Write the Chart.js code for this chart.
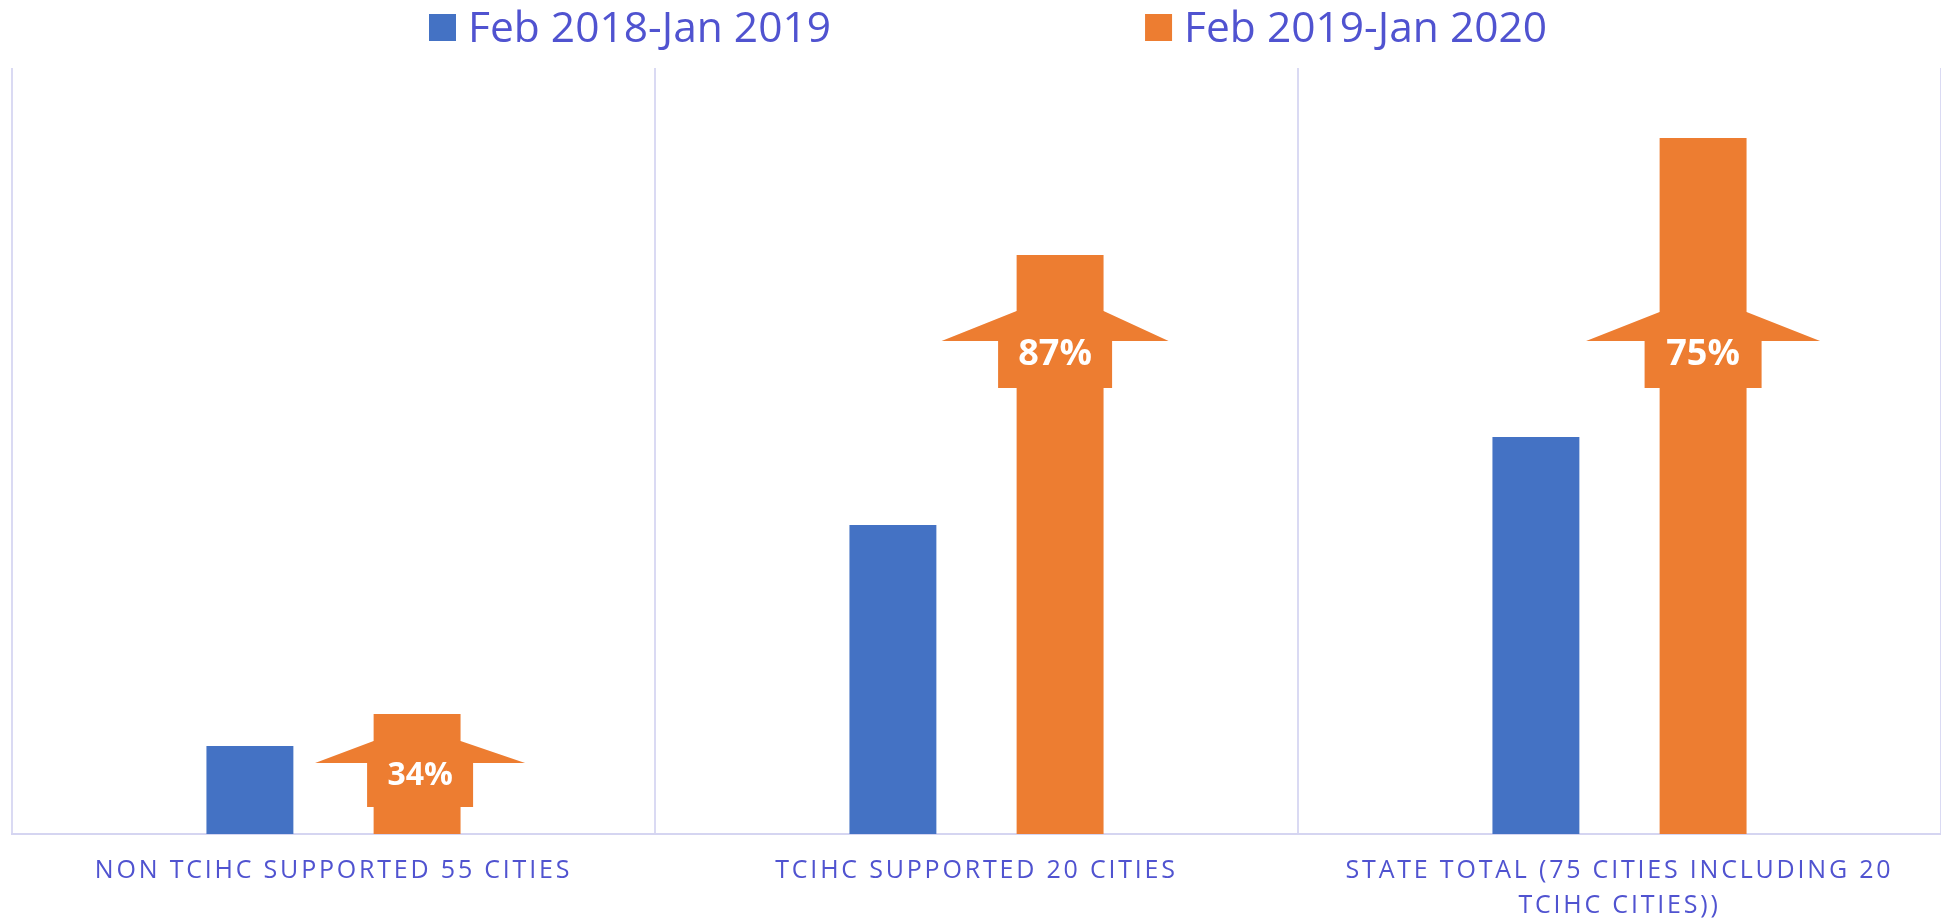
<!DOCTYPE html>
<html>
<head>
<meta charset="utf-8">
<script src="https://cdn.jsdelivr.net/npm/chart.js@4"></script>
<style>
  html, body { margin: 0; padding: 0; background: #fff; overflow: hidden; }
  #wrap { width: 1941px; height: 919px; }
</style>
</head>
<body>
<div id="wrap"><canvas id="chart"></canvas></div>
<script>
// Data (bar heights, no value axis shown)
const categories = [
  'NON TCIHC SUPPORTED 55 CITIES',
  'TCIHC SUPPORTED 20 CITIES',
  ['STATE TOTAL (75 CITIES INCLUDING 20', 'TCIHC CITIES))']
];
const seriesNames = ['Feb 2018-Jan 2019', 'Feb 2019-Jan 2020'];
const period1 = [88, 309, 397];
const period2 = [120, 579, 696];
const changeLabels = ['34%', '87%', '75%'];

const textColor = '#5053D0';
const gridColor = '#DADAF3';
const blue = '#4472C4';
const orange = '#ED7D31';

// arrow callouts sitting on the orange bars
const calloutStyle = [
  { at: 71, head: 22, span: 210, boxW: 106, boxH: 44, dx: 3, font: 32 },
  { at: 493, head: 30, span: 227, boxW: 114, boxH: 47, dx: -5, font: 36 },
  { at: 493, head: 29, span: 234, boxW: 117, boxH: 47, dx: 0, font: 36 }
];

const calloutPlugin = {
  id: 'callouts',
  afterDatasetsDraw(chart) {
    const ctx = chart.ctx;
    const meta = chart.getDatasetMeta(1);
    const y = chart.scales.y;
    meta.data.forEach((bar, i) => {
      const s = calloutStyle[i];
      const half = bar.width / 2;
      const cx = bar.x + s.dx;
      const wy = y.getPixelForValue(s.at);
      const top = wy - s.head;
      ctx.save();
      ctx.letterSpacing = '0px';
      ctx.fillStyle = chart.data.datasets[1].backgroundColor;
      ctx.beginPath();
      ctx.moveTo(bar.x - half, top);
      ctx.lineTo(cx - s.span / 2, wy);
      ctx.lineTo(cx - s.boxW / 2, wy);
      ctx.lineTo(cx - s.boxW / 2, wy + s.boxH);
      ctx.lineTo(cx + s.boxW / 2, wy + s.boxH);
      ctx.lineTo(cx + s.boxW / 2, wy);
      ctx.lineTo(cx + s.span / 2, wy);
      ctx.lineTo(bar.x + half, top);
      ctx.closePath();
      ctx.fill();
      ctx.fillStyle = '#fff';
      ctx.font = 'bold ' + s.font + 'px "Open Sans"';
      ctx.textAlign = 'center';
      ctx.textBaseline = 'middle';
      ctx.fillText(changeLabels[i], cx, wy + s.boxH * 0.3);
      ctx.restore();
    });
  }
};

// legend with wide gap between items
const legendPlugin = {
  id: 'wideLegend',
  afterDraw(chart) {
    const ctx = chart.ctx;
    ctx.save();
    ctx.letterSpacing = '0px';
    ctx.font = '42.5px "Open Sans"';
    ctx.textBaseline = 'alphabetic';
    ctx.textAlign = 'left';
    let x = 429;
    chart.data.datasets.forEach(ds => {
      ctx.fillStyle = ds.backgroundColor;
      ctx.fillRect(x, 14, 27, 27);
      x += 39;
      ctx.fillStyle = textColor;
      ctx.fillText(ds.label, x, 42);
      x += ctx.measureText(ds.label).width + 314;
    });
    ctx.restore();
  }
};

// spaced-out axis labels
const spacingPlugin = {
  id: 'spacing',
  beforeDraw(chart) { chart.ctx.letterSpacing = '2.8px'; },
  beforeDatasetsDraw(chart) { chart.ctx.letterSpacing = '0px'; }
};

function draw() {
  new Chart(document.getElementById('chart'), {
    type: 'bar',
    data: {
      labels: categories,
      datasets: [
        { label: seriesNames[0], data: period1, backgroundColor: blue },
        { label: seriesNames[1], data: period2, backgroundColor: orange }
      ]
    },
    options: {
      responsive: true,
      maintainAspectRatio: false,
      animation: false,
      barPercentage: 0.52,
      categoryPercentage: 0.52,
      layout: { padding: { top: 68, left: 12, right: 0, bottom: -23 } },
      plugins: {
        legend: { display: false },
        tooltip: { enabled: false }
      },
      scales: {
        x: {
          grid: { color: gridColor, lineWidth: 2, drawTicks: false, offset: true },
          border: { color: '#D5D5F1', width: 2 },
          ticks: {
            color: textColor,
            font: { family: 'Open Sans', size: 25, lineHeight: 1.4 },
            padding: 19,
            maxRotation: 0,
            autoSkip: false
          }
        },
        y: { display: false, min: 0, max: 766 }
      }
    },
    plugins: [spacingPlugin, calloutPlugin, legendPlugin]
  });
}

Promise.all([
  document.fonts.load('25px "Open Sans"'),
  document.fonts.load('bold 36px "Open Sans"')
]).then(draw, draw);
</script>
</body>
</html>
